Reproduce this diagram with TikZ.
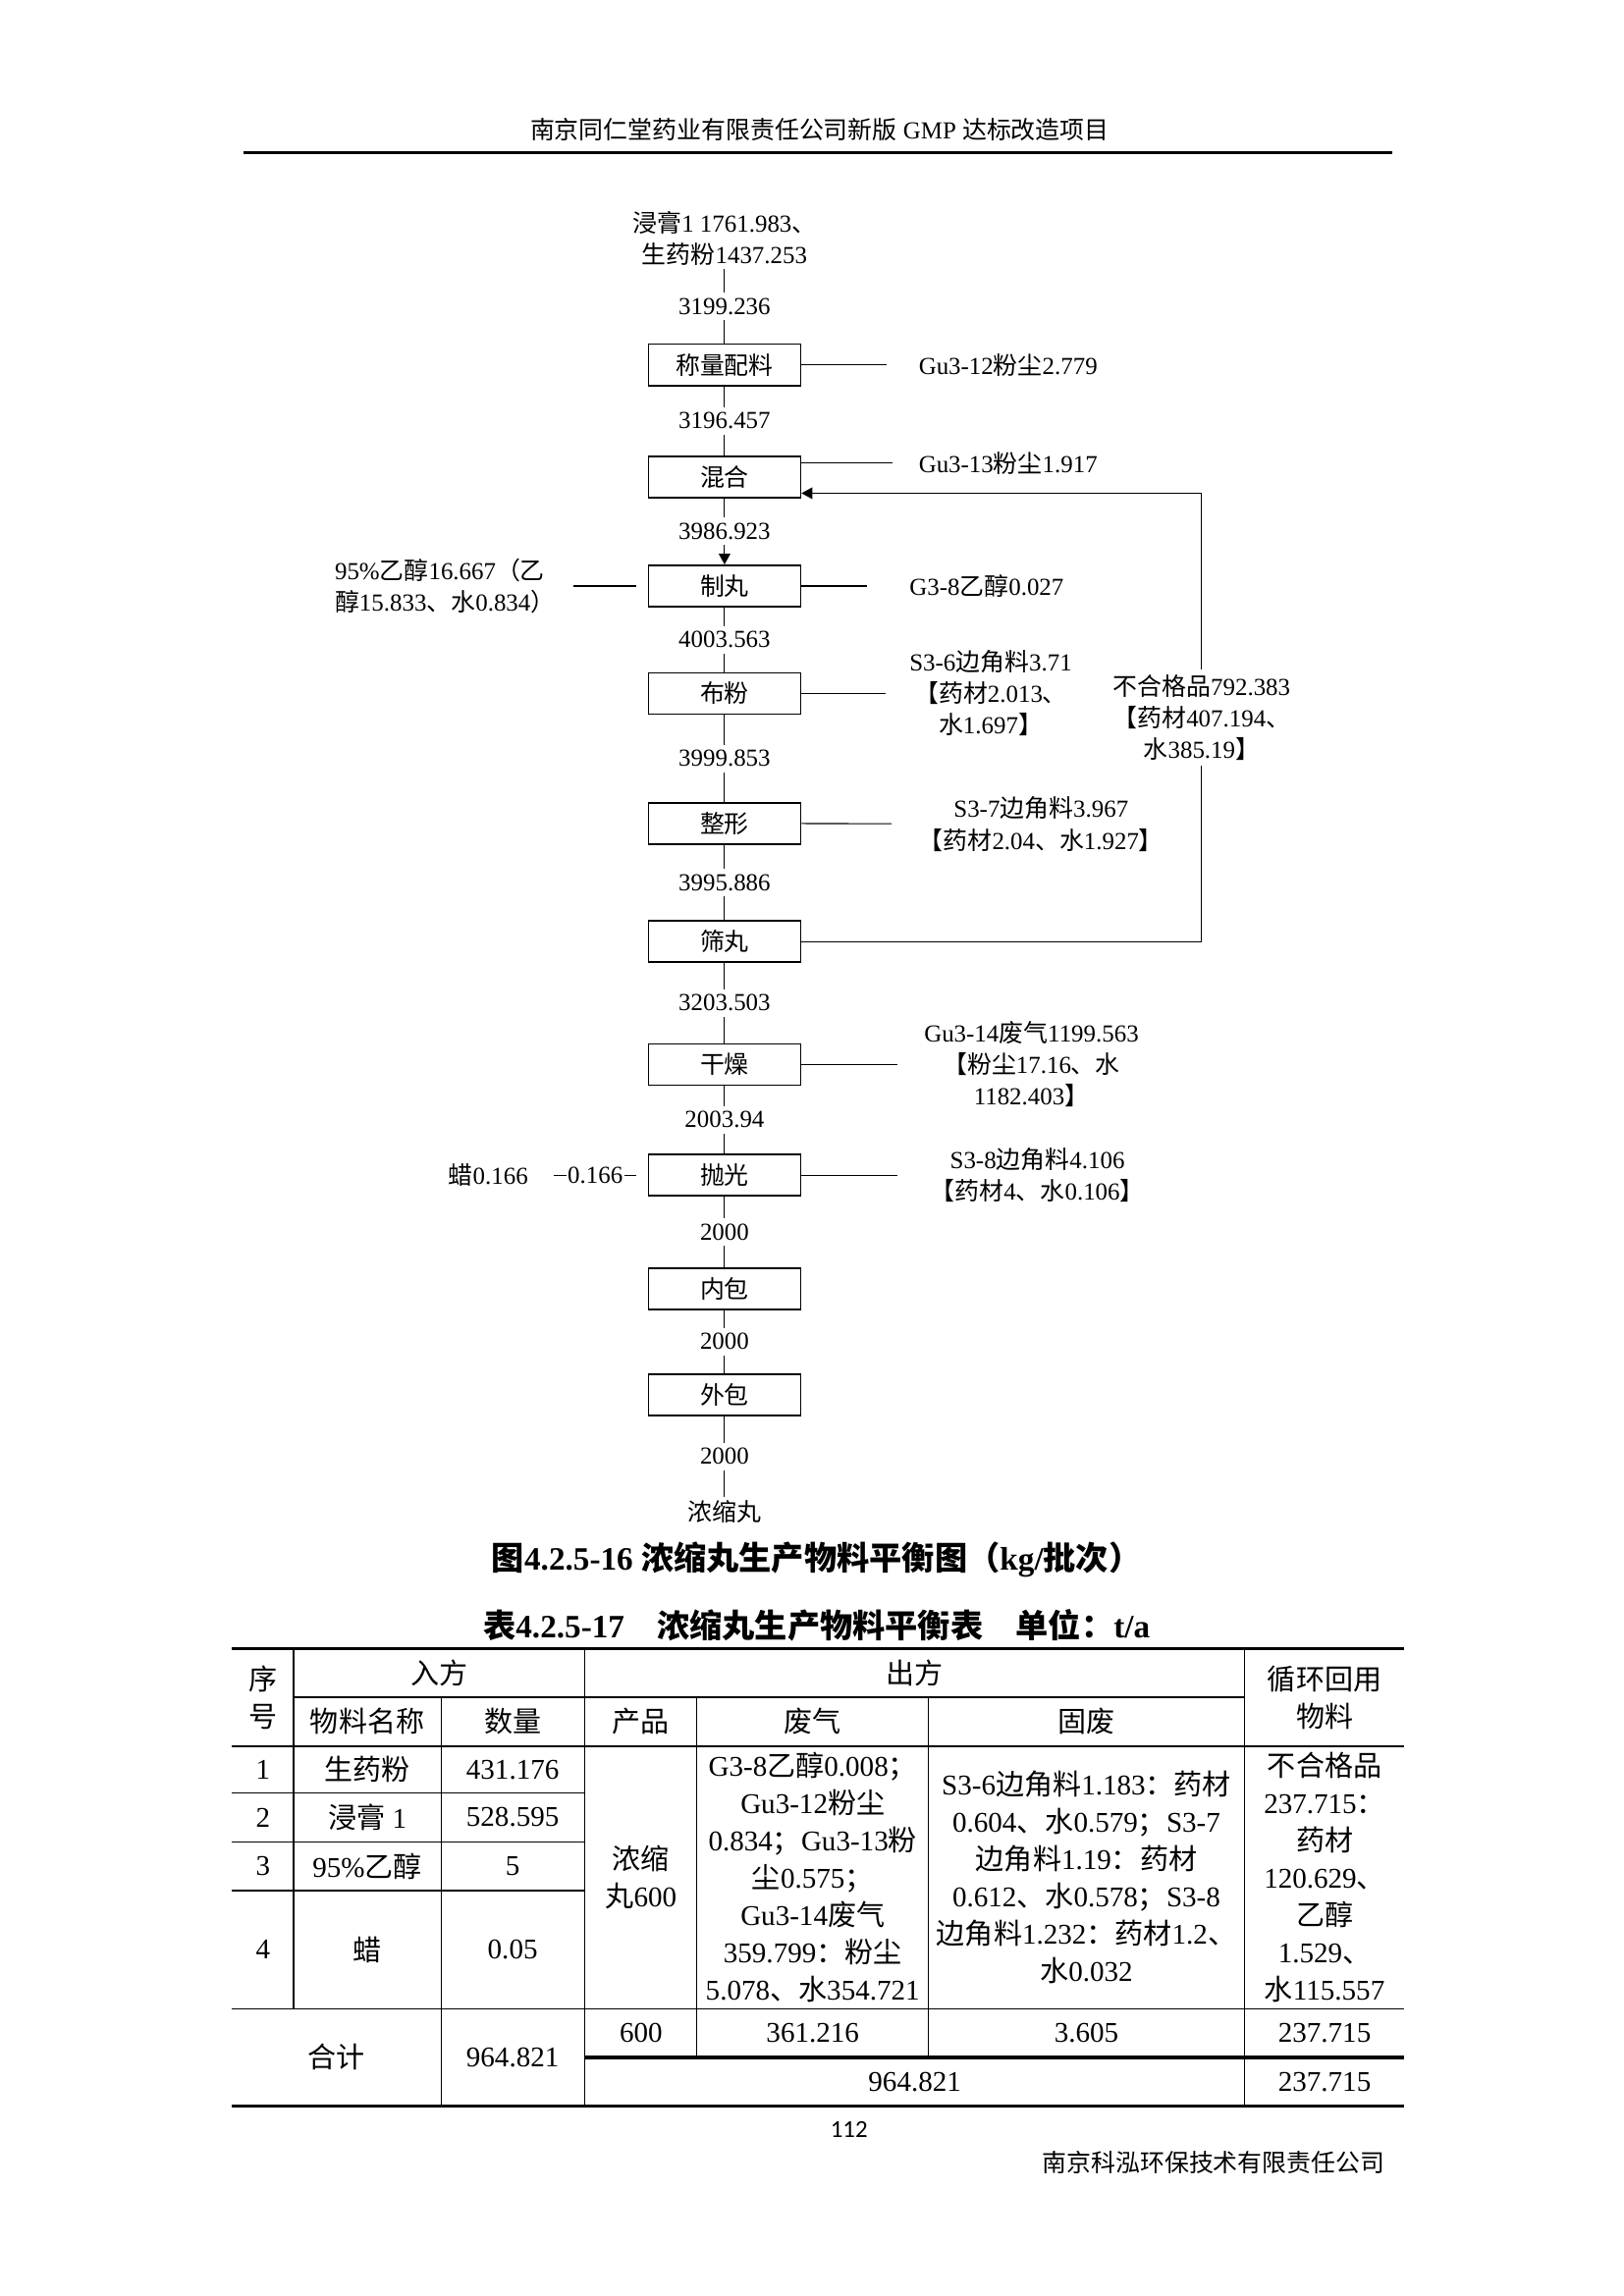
\documentclass[tikz,border=0pt]{standalone}
\usepackage{fontspec}
\setmainfont{Liberation Serif}
\newfontfamily\zhfont{Noto Sans CJK SC}
\newfontfamily\pgnumfont{Carlito}
\newcommand{\zh}[1]{{\zhfont #1}}
\usetikzlibrary{arrows.meta, positioning, calc}

\tikzset{
  pagetxt/.style={font=\fontsize{9}{11}\selectfont, inner sep=1pt},
  flowtxt/.style={font=\fontsize{9}{11.6}\selectfont, inner sep=1pt},
  flownum/.style={flowtxt, fill=white, inner ysep=2pt},
  procbox/.style={draw, semithick, minimum width=1.97cm, minimum height=0.535cm, inner sep=0pt, font=\fontsize{9}{11}\selectfont},
  tabtxt/.style={font=\fontsize{10.5}{13.7}\selectfont, align=center, inner sep=0pt},
  captxt/.style={font=\bfseries\fontsize{12}{14}\selectfont, inner sep=1pt},
  tabrule/.style={line width=1.2pt},
  tabmid/.style={line width=0.8pt},
  tabthin/.style={line width=0.5pt},
  flowtip/.style={-{Triangle[length=1.4mm,width=1.5mm]}}
}

\begin{document}
\begin{tikzpicture}
\useasboundingbox (0,-29.7) rectangle (21,0);

% header
\node[pagetxt] (head) at (10.6,-1.68) {\zh{南京同仁堂药业有限责任公司新版} GMP \zh{达标改造项目}};
\draw[line width=1.1pt] (3.15,-1.97) -- (18.0,-1.97);

% main line of the flow chart
\node[flowtxt, align=center] (src) at (9.37,-3.09) {\zh{浸膏}1 1761.983\zh{、}\\\zh{生药粉}1437.253};
\node[procbox] (weigh) at (9.37,-4.72) {\zh{称量配料}};
\node[procbox] (mix) at (9.37,-6.17) {\zh{混合}};
\node[procbox] (pill) at (9.37,-7.58) {\zh{制丸}};
\node[procbox] (powder) at (9.37,-8.97) {\zh{布粉}};
\node[procbox] (shape) at (9.37,-10.65) {\zh{整形}};
\node[procbox] (sieve) at (9.37,-12.18) {\zh{筛丸}};
\node[procbox] (dry) at (9.37,-13.77) {\zh{干燥}};
\node[procbox] (polish) at (9.37,-15.20) {\zh{抛光}};
\node[procbox] (inpack) at (9.37,-16.67) {\zh{内包}};
\node[procbox] (outpack) at (9.37,-18.04) {\zh{外包}};
\node[flowtxt] (prod) at (9.37,-19.55) {\zh{浓缩丸}};

\draw (src) -- node[flownum] {3199.236} (weigh);
\draw (weigh) -- node[flownum] {3196.457} (mix);
\draw[flowtip] (mix) -- node[flownum] {3986.923} (pill);
\draw (pill) -- node[flownum] {4003.563} (powder);
\draw (powder) -- node[flownum] {3999.853} (shape);
\draw (shape) -- node[flownum] {3995.886} (sieve);
\draw (sieve) -- node[flownum] {3203.503} (dry);
\draw (dry) -- node[flownum] {2003.94} (polish);
\draw (polish) -- node[flownum] {2000} (inpack);
\draw (inpack) -- node[flownum] {2000} (outpack);
\draw (outpack) -- node[flownum] {2000} (prod);

% outputs on the right
\node[flowtxt, anchor=west] (dust1) at (11.84,-4.72) {Gu3-12\zh{粉尘}2.779};
\node[flowtxt, anchor=west] (dust2) at (11.84,-5.99) {Gu3-13\zh{粉尘}1.917};
\node[flowtxt, anchor=west] (gas1) at (11.72,-7.58) {G3-8\zh{乙醇}0.027};
\node[flowtxt, anchor=west, align=center] (scrap6) at (11.72,-8.97) {S3-6\zh{边角料}3.71\\\zh{【药材}2.013\zh{、}\\\zh{水}1.697\zh{】}};
\node[flowtxt, anchor=west, align=center] (scrap7) at (11.84,-10.66) {S3-7\zh{边角料}3.967\\\zh{【药材}2.04\zh{、水}1.927\zh{】}};
\node[flowtxt, anchor=west, align=center] (exhaust) at (11.91,-13.77) {Gu3-14\zh{废气}1199.563\\\zh{【粉尘}17.16\zh{、水}\\1182.403\zh{】}};
\node[flowtxt, anchor=west, align=center] (scrap8) at (11.99,-15.20) {S3-8\zh{边角料}4.106\\\zh{【药材}4\zh{、水}0.106\zh{】}};

\draw[shorten >=0.38cm] (weigh) -- (dust1);
\draw (mix.east |- dust2.west) -- ([xshift=-0.3cm]dust2.west);
\draw[shorten >=0.51cm] (pill) -- (gas1);
\draw[shorten >=0.27cm] (powder) -- (scrap6);
\draw[shorten >=0.31cm] (shape) -- (scrap7);
\draw[shorten >=0.31cm] (dry) -- (exhaust);
\draw[shorten >=0.38cm] (polish) -- (scrap8);

% inputs on the left
\node[flowtxt, anchor=east, align=left] (alc) at (7.22,-7.58) {95\%\zh{乙醇}16.667\zh{（乙}\\\zh{醇}15.833\zh{、水}0.834\zh{）}};
\node[flowtxt, anchor=east] (wax) at (6.87,-15.20) {\zh{蜡}0.166};
\draw[shorten <=0.19cm, shorten >=0.15cm] (alc) -- (pill);
\draw[shorten <=0.29cm, shorten >=0.15cm] (wax) -- node[flownum, inner xsep=0.5pt, pos=0.55] {0.166} (polish);

% rejected pills back to mixing
\coordinate (rejbot) at (15.54,-12.18);
\coordinate (rejtop) at (15.54,-6.38);
\draw[flowtip] (sieve) -- (rejbot) -- node[flownum, align=center] {\zh{不合格品}792.383\\\zh{【药材}407.194\zh{、}\\\zh{水}385.19\zh{】}} (rejtop) -- (mix.east |- rejtop);

% captions
\node[captxt] (figcap) at (10.56,-20.18) {\zh{图}4.2.5-16 \zh{浓缩丸生产物料平衡图（}kg/\zh{批次）}};
\node[captxt] (tabcap) at (10.56,-21.02) {\zh{表}4.2.5-17\zh{　浓缩丸生产物料平衡表　单位：}t/a};

% table rules
\draw[tabrule] (3.0,-21.325) -- (18.16,-21.325);
\draw[tabthin] (3.8,-21.955) -- (16.094,-21.955);
\draw[tabmid] (3.0,-22.585) -- (18.16,-22.585);
\draw[tabthin] (3.0,-23.196) -- (7.56,-23.196);
\draw[tabthin] (3.0,-23.826) -- (7.56,-23.826);
\draw[tabmid] (3.0,-24.456) -- (7.56,-24.456);
\draw[tabthin] (3.0,-25.983) -- (18.16,-25.983);
\draw[tabrule] (7.56,-26.613) -- (18.16,-26.613);
\draw[tabrule] (3.0,-27.243) -- (18.16,-27.243);
\draw[tabthin] (3.799,-21.325) -- (3.799,-25.983);
\draw[tabthin] (5.708,-21.955) -- (5.708,-27.243);
\draw[tabthin] (7.56,-21.325) -- (7.56,-27.243);
\draw[tabthin] (9.011,-21.955) -- (9.011,-26.613);
\draw[tabthin] (12.008,-21.955) -- (12.008,-26.613);
\draw[tabthin] (16.094,-21.325) -- (16.094,-27.243);

% table head
\node[tabtxt] (hseq) at (3.40,-21.96) {\zh{序}\\\zh{号}};
\node[tabtxt] (hin) at (5.68,-21.64) {\zh{入方}};
\node[tabtxt] (hout) at (11.83,-21.64) {\zh{出方}};
\node[tabtxt] (hrec) at (17.13,-21.96) {\zh{循环回用}\\\zh{物料}};
\node[tabtxt] (hname) at (4.75,-22.27) {\zh{物料名称}};
\node[tabtxt] (hqty) at (6.63,-22.27) {\zh{数量}};
\node[tabtxt] (hprod) at (8.29,-22.27) {\zh{产品}};
\node[tabtxt] (hgas) at (10.51,-22.27) {\zh{废气}};
\node[tabtxt] (hsolid) at (14.05,-22.27) {\zh{固废}};

% table body
\node[tabtxt] (seq1) at (3.40,-22.89) {1};
\node[tabtxt] (name1) at (4.75,-22.89) {\zh{生药粉}};
\node[tabtxt] (qty1) at (6.63,-22.89) {431.176};
\node[tabtxt] (seq2) at (3.40,-23.51) {2};
\node[tabtxt] (name2) at (4.75,-23.51) {\zh{浸膏} 1};
\node[tabtxt] (qty2) at (6.63,-23.51) {528.595};
\node[tabtxt] (seq3) at (3.40,-24.14) {3};
\node[tabtxt] (name3) at (4.75,-24.14) {95\%\zh{乙醇}};
\node[tabtxt] (qty3) at (6.63,-24.14) {5};
\node[tabtxt] (seq4) at (3.40,-25.22) {4};
\node[tabtxt] (name4) at (4.75,-25.22) {\zh{蜡}};
\node[tabtxt] (qty4) at (6.63,-25.22) {0.05};
\node[tabtxt] (prodout) at (8.29,-24.28) {\zh{浓缩}\\\zh{丸}600};
\node[tabtxt] (gasout) at (10.51,-24.28) {G3-8\zh{乙醇}0.008\zh{；}\\Gu3-12\zh{粉尘}\\0.834\zh{；}Gu3-13\zh{粉}\\\zh{尘}0.575\zh{；}\\Gu3-14\zh{废气}\\359.799\zh{：粉尘}\\5.078\zh{、水}354.721};
\node[tabtxt] (solidout) at (14.05,-24.28) {S3-6\zh{边角料}1.183\zh{：药材}\\0.604\zh{、水}0.579\zh{；}S3-7\\\zh{边角料}1.19\zh{：药材}\\0.612\zh{、水}0.578\zh{；}S3-8\\\zh{边角料}1.232\zh{：药材}1.2\zh{、}\\\zh{水}0.032};
\node[tabtxt] (recout) at (17.13,-24.28) {\zh{不合格品}\\237.715\zh{：}\\\zh{药材}\\120.629\zh{、}\\\zh{乙醇}\\1.529\zh{、}\\\zh{水}115.557};

% totals
\node[tabtxt] (sumlab) at (4.35,-26.61) {\zh{合计}};
\node[tabtxt] (sumin) at (6.63,-26.61) {964.821};
\node[tabtxt] (sumprod) at (8.29,-26.30) {600};
\node[tabtxt] (sumgas) at (10.51,-26.30) {361.216};
\node[tabtxt] (sumsolid) at (14.05,-26.30) {3.605};
\node[tabtxt] (sumrec) at (17.13,-26.30) {237.715};
\node[tabtxt] (sumout) at (11.83,-26.93) {964.821};
\node[tabtxt] (sumrec2) at (17.13,-26.93) {237.715};

% footer
\node[pagetxt, font=\pgnumfont\fontsize{9}{11}\selectfont] (pgno) at (10.98,-27.55) {112};
\node[pagetxt, anchor=east] (foot) at (17.95,-27.97) {\zh{南京科泓环保技术有限责任公司}};
\end{tikzpicture}
\end{document}
